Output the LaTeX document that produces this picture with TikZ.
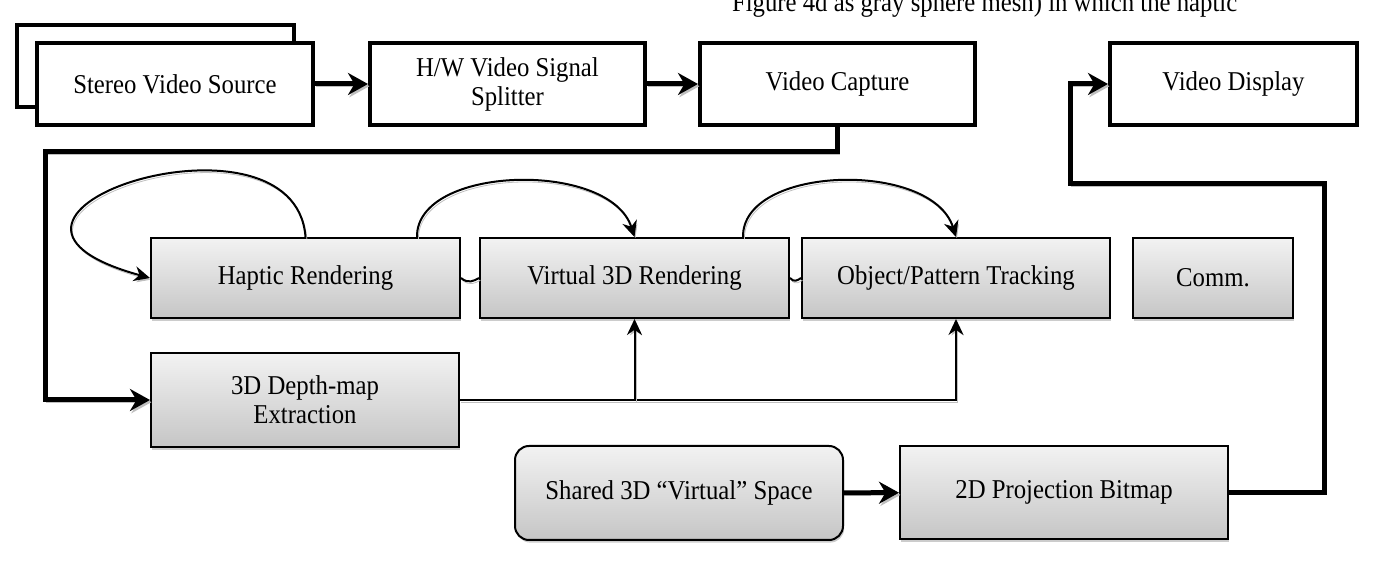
\documentclass[tikz,border=0pt]{standalone}
\usepackage{fontspec}
\setmainfont{Liberation Serif}[FakeStretch=0.91]
\usetikzlibrary{arrows.meta,shadows}

\begin{document}
\begin{tikzpicture}[x=0.5pt,y=-0.5pt,
	font=\fontsize{13.6}{14.5}\selectfont,
	wbox/.style={draw,line width=2pt,fill=white,align=center,inner sep=0pt,minimum height=41pt},
	gbox/.style={draw,line width=1pt,top color=gray!10,bottom color=gray!45,align=center,inner sep=0pt,minimum height=40pt,
		drop shadow={shadow xshift=0.6pt,shadow yshift=-1.3pt,fill=gray!80}},
	lshadow/.style={preaction={draw=gray!50,transform canvas={shift={(0.7pt,-1.1pt)}}}},
	bigline/.style={line width=2.5pt,lshadow},
	bigarrow/.style={bigline,-{Stealth[length=10pt,width=11pt]}},
	thinline/.style={line width=1pt,lshadow},
	thinarrow/.style={thinline,-{Stealth[length=8pt,width=7.5pt]}}]
	\useasboundingbox (0,0) rectangle (1378,572);
	%\draw[help lines] (0,0) grid[step=50] (1378,572);
	\node[anchor=base west] (caption) at (725,12) {Figure 4d as gray sphere mesh) in which the haptic};
	% top row
	\node[wbox,minimum width=138.5pt] (stereoback) at (155.5,66) {};
	\node[wbox,minimum width=138pt] (stereo) at (175,84) {Stereo Video Source};
	\node[wbox,minimum width=137.5pt] (splitter) at (507.5,84) {H/W Video Signal\\Splitter};
	\node[wbox,minimum width=137.5pt] (capture) at (837.5,84) {Video Capture};
	\node[wbox,minimum width=123.5pt] (display) at (1233.5,84) {Video Display};
	% middle rows
	\node[gbox,minimum width=154.5pt] (haptic) at (305.5,278) {Haptic Rendering};
	\node[gbox,minimum width=154.5pt] (virtual) at (634.5,278) {Virtual 3D Rendering};
	\node[gbox,minimum width=154pt] (tracking) at (956,278) {Object/Pattern Tracking};
	\node[gbox,minimum width=80pt] (comm) at (1213,278) {Comm.};
	\node[gbox,minimum width=154pt,minimum height=47pt] (depth) at (305,400) {3D Depth-map\\Extraction};
	\node[gbox,minimum width=164pt,minimum height=47pt,rounded corners=7pt] (shared) at (679,493) {Shared 3D ``Virtual'' Space};
	\node[gbox,minimum width=164pt,minimum height=46.5pt] (proj) at (1064,492.5) {2D Projection Bitmap};
	\coordinate (capbend) at (45,152);
	\coordinate (projup) at (1324,184);
	\coordinate (dispbend) at (1070,184);
	% thick connectors
	\draw[bigarrow] (stereo) -- (splitter);
	\draw[bigarrow] (splitter) -- (capture);
	\draw[bigarrow] (capture.south) |- (capbend) |- (depth.west);
	\draw[bigarrow] (shared) -- (proj);
	\draw[bigarrow] (proj.east) -| (projup) -- (dispbend) |- (display.west);
	% thin connectors
	\draw[thinarrow] (depth.east) -| (tracking.south);
	\draw[thinarrow] (depth.east -| virtual.south) -- (virtual.south);
	\draw[thinarrow] (haptic.north) .. controls (295,95) and (-80,215) .. (haptic.west);
	\draw[thinarrow] ([xshift=-22pt]haptic.north east) .. controls (416,165) and (610,160) .. (virtual.north);
	\draw[thinarrow] ([xshift=-23.5pt]virtual.north east) .. controls (742,165) and (932,160) .. (tracking.north);
	\draw[thinline] (haptic.east) .. controls (468,284) and (474,281) .. (virtual.west);
	\draw[thinline] (virtual.east) .. controls (794,283) and (798,280) .. (tracking.west);
\end{tikzpicture}
\end{document}
